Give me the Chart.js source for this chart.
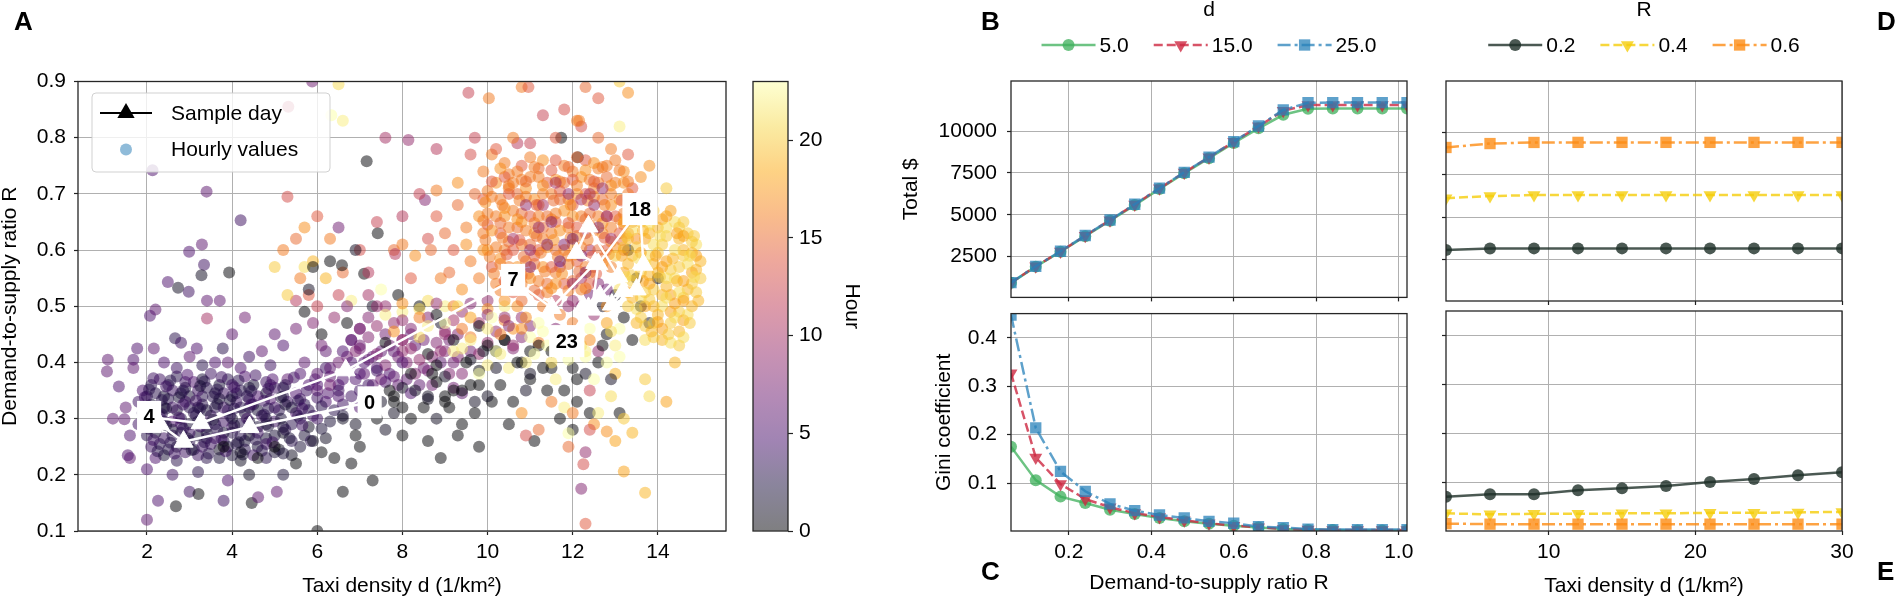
<!DOCTYPE html>
<html>
<head>
<meta charset="utf-8">
<script src="https://cdn.jsdelivr.net/npm/chart.js@4.4.1/dist/chart.umd.min.js"></script>
<style>
  html, body { margin: 0; padding: 0; background: #fff; }
  body { width: 1897px; height: 601px; position: relative; overflow: hidden; font-family: "Liberation Sans", Arial, sans-serif; }
  .box { position: absolute; }
  .panel { position: absolute; font-weight: bold; font-size: 26px; line-height: 26px; color: #000; }
</style>
</head>
<body>
<div class="box" style="left:0;top:0;width:740px;height:601px"><canvas id="chartA"></canvas></div>
<div class="box" style="left:0;top:0;width:740px;height:601px"><canvas id="chartDay"></canvas></div>
<div class="box" style="left:740px;top:0;width:160px;height:601px"><canvas id="chartBar"></canvas></div>
<div class="box" style="left:880px;top:0;width:546px;height:320px"><canvas id="chartB"></canvas></div>
<div class="box" style="left:880px;top:291px;width:546px;height:310px"><canvas id="chartC"></canvas></div>
<div class="box" style="left:1426px;top:0;width:471px;height:320px"><canvas id="chartD"></canvas></div>
<div class="box" style="left:1426px;top:291px;width:471px;height:310px"><canvas id="chartE"></canvas></div>
<div class="panel" style="left:14px;top:8px">A</div>
<div class="panel" style="left:981px;top:8px">B</div>
<div class="panel" style="left:981px;top:558px">C</div>
<div class="panel" style="left:1877px;top:8px">D</div>
<div class="panel" style="left:1877px;top:558px">E</div>
<script>
// ===== Panel A : hourly values [taxi density d, ratio R, hour] =====
const hourlyPoints = [
  // night blob
  [2.3,.37,4],[2.7,.375,3],[3.1,.365,5],[3.5,.38,4],[3.9,.37,3],[4.3,.375,5],[4.8,.365,4],[5.3,.37,6],[5.8,.36,5],
  [1.9,.35,5],[2.2,.345,3],[2.6,.35,4],[3.0,.34,2],[3.4,.355,3],[3.8,.345,4],[4.2,.35,3],[4.6,.34,5],[5.0,.355,4],[5.5,.345,5],[6.0,.35,6],[6.5,.36,5],
  [1.8,.33,4],[2.1,.325,2],[2.5,.335,3],[2.9,.33,4],[3.3,.325,3],[3.7,.335,2],[4.1,.33,4],[4.5,.325,3],[4.9,.335,5],[5.3,.33,4],[5.7,.325,3],[6.2,.33,5],[6.8,.34,4],
  [1.9,.31,3],[2.3,.305,4],[2.7,.315,2],[3.1,.31,3],[3.5,.305,4],[3.9,.315,3],[4.3,.31,2],[4.7,.305,4],[5.1,.315,3],[5.5,.31,5],[5.9,.305,4],[6.4,.315,3],[7.0,.32,5],
  [1.8,.29,4],[2.2,.285,3],[2.6,.295,5],[3.0,.29,2],[3.4,.285,3],[3.8,.295,4],[4.2,.29,3],[4.6,.285,2],[5.0,.295,4],[5.4,.29,3],[5.8,.285,1],[6.3,.295,2],[6.9,.29,1],
  [2.0,.27,3],[2.4,.265,4],[2.8,.275,3],[3.2,.27,2],[3.6,.265,4],[4.0,.275,3],[4.4,.27,1],[4.8,.265,2],[5.2,.275,1],[5.7,.27,2],[6.2,.265,1],
  [2.1,.25,4],[2.5,.245,3],[2.9,.255,2],[3.3,.25,4],[3.7,.245,1],[4.1,.255,3],[4.6,.25,2],[5.1,.245,1],[5.6,.25,2],
  [2.2,.23,5],[2.7,.225,3],[3.2,.235,4],[3.7,.23,2],[4.2,.225,1],[4.8,.23,3],[5.4,.235,1],
  [2.5,.36,3],[2.9,.355,2],[3.3,.34,3],[3.7,.36,2],[4.1,.345,3],[4.5,.36,2],[2.4,.32,2],[2.8,.3,3],[3.2,.32,2],[3.6,.32,3],
  [4.0,.3,2],[4.4,.32,3],[4.8,.3,2],[2.6,.28,2],[3.0,.26,3],[3.4,.275,2],[3.8,.26,3],[4.3,.26,2],
  [2.1,.36,3],[2.9,.365,4],[3.3,.37,2],[4.0,.36,4],[4.4,.355,2],[4.9,.36,3],[5.2,.355,3],
  [2.0,.34,3],[2.4,.34,2],[2.8,.345,3],[3.2,.35,4],[3.6,.345,2],[4.0,.34,3],[4.4,.335,4],[4.8,.345,2],[5.2,.34,3],[5.6,.335,4],
  [2.2,.315,3],[2.6,.32,4],[3.0,.32,3],[3.4,.315,2],[3.8,.32,4],[4.2,.32,3],[4.6,.315,2],[5.0,.32,4],[5.4,.32,2],[5.8,.315,3],
  [2.0,.3,2],[2.4,.295,3],[2.8,.29,4],[3.2,.295,2],[3.6,.29,3],[4.0,.285,4],[4.4,.295,2],[4.8,.29,3],[5.2,.285,2],[5.6,.3,3],
  [2.2,.275,2],[2.6,.27,3],[3.0,.275,4],[3.4,.265,3],[3.8,.275,2],[4.2,.27,3],[4.6,.275,4],[5.0,.27,2],[5.4,.26,3],
  [2.3,.255,3],[2.7,.25,2],[3.1,.245,3],[3.5,.255,4],[3.9,.25,2],[4.3,.245,3],[4.8,.255,4],
  [2.4,.235,2],[2.9,.24,4],[3.4,.23,3],[4.0,.235,2],[4.5,.235,4],[5.0,.24,2],
  [2.15,.372,4],[2.55,.368,3],[2.95,.378,5],[3.35,.366,3],[3.75,.374,4],[4.15,.368,3],[4.55,.377,4],[4.95,.37,5],[5.45,.373,4],[5.95,.37,5],[6.3,.375,6],
  [2.05,.352,3],[2.45,.357,4],[2.85,.35,3],[3.25,.358,2],[3.65,.352,3],[4.05,.356,4],[4.45,.349,3],[4.85,.353,4],[5.25,.36,3],[5.75,.35,4],[6.25,.345,5],
  [1.95,.338,4],[2.35,.333,3],[2.75,.338,2],[3.15,.332,4],[3.55,.339,3],[3.95,.333,2],[4.35,.34,3],[4.75,.332,4],[5.15,.338,2],[5.55,.332,3],[6.0,.337,4],[6.5,.34,5],
  [2.05,.322,3],[2.45,.318,2],[2.85,.325,4],[3.25,.318,3],[3.65,.326,2],[4.05,.318,3],[4.45,.325,4],[4.85,.318,3],[5.25,.325,2],[5.65,.318,4],[6.1,.322,3],[6.6,.325,4],
  [1.95,.302,4],[2.35,.308,3],[2.75,.302,4],[3.15,.306,3],[3.55,.298,2],[3.95,.305,3],[4.35,.3,4],[4.75,.307,3],[5.15,.3,2],[5.55,.305,3],[6.0,.3,4],[6.6,.305,2],
  [2.05,.282,3],[2.45,.288,2],[2.85,.282,3],[3.25,.286,4],[3.65,.28,3],[4.05,.288,2],[4.45,.282,3],[4.85,.287,2],[5.25,.28,3],[5.65,.288,4],[6.1,.282,2],
  [2.15,.262,4],[2.55,.257,3],[2.95,.265,2],[3.35,.258,3],[3.75,.264,4],[4.15,.258,2],[4.55,.263,3],[4.95,.258,4],[5.35,.265,2],[5.85,.26,3],
  [2.25,.242,3],[2.65,.238,4],[3.05,.244,2],[3.45,.238,3],[3.85,.242,4],[4.25,.236,2],[4.7,.243,3],[5.2,.238,2],
  // fringe below and left
  [1.6,.23,6],[2.0,.21,5],[2.6,.2,4],[3.2,.205,3],[3.9,.19,5],[4.4,.2,1],[5.2,.2,2],[2.0,.12,6],[2.26,.154,5],[2.68,.144,0],
  [3.0,.17,4],[3.21,.166,0],[3.8,.154,4],[4.46,.15,0],[4.61,.16,6],[5.05,.17,6],[1.08,.405,6],[1.06,.384,6],[1.34,.357,5],
  [1.47,.299,6],[1.55,.235,5],[1.2,.3,6],[1.6,.27,5],[1.5,.32,6],[1.68,.405,5],[1.68,.39,6],
  // fringe above
  [1.77,.425,5],[2.07,.483,5],[2.2,.494,6],[2.13,.742,5],[3.4,.704,6],[4.2,.653,4],[3.29,.61,6],[2.99,.597,5],[3.34,.574,4],
  [3.28,.555,1],[3.93,.56,0],[2.49,.543,5],[2.73,.533,1],[2.98,.526,4],[3.41,.51,6],[3.71,.51,6],[3.41,.478,10],
  [2.66,.443,3],[2.16,.425,6],[2.8,.435,4],[3.17,.425,5],[3.78,.425,3],[4.0,.45,6],[4.3,.48,7],[5.0,.45,6],[5.5,.46,7],
  [5.2,.43,5],[4.7,.42,6],[2.4,.4,5],[3.0,.41,6],[3.6,.4,5],[4.4,.41,4],[3.9,.4,6],[2.7,.39,4],[3.3,.395,3],[4.2,.39,5],[4.9,.395,4],
  // middle region, mixed hours
  [6.5,.64,7],[5.3,.695,13],[5.5,.62,15],[5.2,.6,16],[5.7,.64,17],[6.0,.66,14],[5.9,.58,19],[5.0,.57,20],[5.6,.55,16],
  [5.8,.52,14],[6.3,.62,16],[6.6,.56,15],[6.58,.573,0],[7.1,.558,0],[7.42,.63,0],[7.16,.758,0],[7.0,.6,13],[7.4,.65,12],
  [7.8,.6,15],[7.83,.593,11],[8.0,.61,16],[8.3,.59,17],[8.67,.6,15],[8.2,.55,14],[8.6,.62,13],[8.9,.55,16],[9.2,.6,14],
  [9.5,.64,16],[9.3,.68,15],[9.3,.72,17],[9.7,.7,15],[9.9,.74,16],[10.1,.77,16],[10.7,.79,11],[10.5,.71,16],[8.14,.796,9],
  [8.53,.689,8],[8.8,.706,16],[9.55,.88,12],[10.03,.87,16],[10.8,.89,16],[10.96,.89,14],[11.73,.8,0],[12.12,.765,0],
  [12.1,.83,16],[6.5,.895,21],[6.6,.83,22],[6.33,.84,23],[5.32,.855,11],[5.88,.9,7],[8.0,.66,11],[8.4,.7,12],[7.6,.8,10],
  [8.8,.78,11],[9.6,.77,13],[6.5,.52,12],[7.2,.52,10],[5.5,.51,11],[6.0,.5,12],[5.3,.52,20],[5.7,.57,21],[6.2,.55,19],
  [6.8,.51,22],[7.5,.53,23],[8.0,.49,22],[8.6,.51,21],[9.0,.5,22],[5.9,.57,0],[6.3,.58,0],[5.8,.53,1],[5.7,.49,0],
  [6.7,.47,0],[7.3,.5,1],[7.9,.52,0],[8.4,.5,0],[8.9,.47,1],[6.9,.6,1],[6.1,.45,0],
  [9.1,.56,15],[9.4,.53,17],[9.6,.58,16],[9.0,.63,15],[9.8,.55,16],[9.5,.61,17],[8.8,.66,14],[9.9,.6,17],
  // morning hours
  [6.5,.4,7],[6.9,.42,8],[7.3,.41,6],[7.7,.43,7],[8.1,.4,8],[8.5,.44,7],[8.9,.42,9],[9.3,.45,8],[7.1,.38,6],[7.5,.37,7],
  [7.9,.36,6],[8.3,.38,8],[8.7,.36,7],[9.1,.38,8],[6.0,.38,6],[6.3,.36,7],[5.7,.4,6],[6.1,.43,7],[7.0,.46,8],[7.8,.47,9],
  [8.6,.48,8],[9.4,.49,9],[9.8,.47,10],[10.0,.51,9],[6.7,.5,8],[7.4,.5,9],[7.2,.56,11],[6.8,.44,6],[7.6,.45,7],[8.2,.45,6],
  [8.0,.42,9],[9.6,.42,7],[6.4,.48,9],[5.9,.47,8],[6.2,.42,6],[6.6,.37,5],[7.0,.35,4],[7.4,.39,5],[6.2,.39,4],[5.6,.38,5],
  [6.3,.39,6],[6.7,.41,7],[7.1,.4,5],[7.5,.42,6],[7.9,.41,7],[8.3,.43,6],[8.7,.41,8],[9.1,.44,7],[6.5,.35,4],[6.9,.37,5],
  [7.3,.36,6],[7.7,.38,5],[8.1,.37,6],[8.5,.39,7],[8.9,.4,6],[9.3,.41,8],[6.0,.36,5],[7.0,.43,7],[8.0,.44,8],[9.0,.45,9],
  // diagonal band between the night blob and the afternoon cluster
  [7.6,.5,9],[8.0,.505,17],[8.4,.495,21],[8.8,.505,9],[9.2,.5,16],[9.6,.505,8],[10.0,.495,17],[10.4,.5,22],
  [7.2,.48,8],[7.6,.485,22],[8.0,.475,9],[8.4,.48,16],[8.8,.485,0],[9.2,.475,10],[9.6,.48,18],[10.0,.485,8],[10.4,.475,16],[10.8,.48,9],
  [7.0,.46,7],[7.4,.465,9],[7.8,.455,17],[8.2,.46,8],[8.6,.465,22],[9.0,.455,9],[9.4,.46,16],[9.8,.465,0],[10.2,.455,9],[10.6,.46,17],[11.0,.465,8],
  [6.8,.44,6],[7.2,.445,8],[7.6,.435,0],[8.0,.44,9],[8.4,.445,21],[8.8,.435,8],[9.2,.44,0],[9.6,.445,16],[10.0,.435,9],[10.4,.44,1],[10.8,.445,8],[11.2,.435,16],
  [6.6,.42,5],[7.0,.425,7],[7.4,.415,8],[7.8,.42,6],[8.2,.425,9],[8.6,.415,0],[9.0,.42,8],[9.4,.425,22],[9.8,.415,9],[10.2,.42,0],[10.6,.425,8],
  [6.8,.4,5],[7.2,.405,6],[7.6,.395,8],[8.0,.4,5],[8.4,.405,9],[8.8,.395,0],[9.2,.4,7],[9.6,.405,1],[10.0,.395,22],
  [7.0,.38,5],[7.4,.385,4],[7.8,.375,6],[8.2,.38,0],[8.6,.385,7],[9.0,.375,1],[9.4,.38,8],[9.8,.385,0],
  [7.2,.36,4],[7.6,.365,5],[8.0,.355,1],[8.4,.36,6],[8.8,.365,0],[9.2,.355,7],[9.6,.36,0],
  [7.8,.34,0],[8.2,.345,5],[8.6,.335,1],[9.0,.34,0],[9.4,.345,6],[10.1,.33,0],
  // midnight hours along the bottom
  [3.8,.25,0],[5.5,.22,0],[6.1,.24,0],[6.8,.22,0],[7.0,.25,0],[7.6,.28,1],[8.2,.3,0],[8.6,.26,0],[8.9,.23,0],[9.3,.27,0],
  [9.8,.25,0],[7.3,.19,0],[6.6,.17,0],[6.0,.1,0],[7.4,.3,0],[7.8,.31,1],[8.5,.32,0],[8.8,.3,1],[9.1,.32,0],[9.4,.29,0],
  [9.7,.33,1],[7.2,.34,1],[7.7,.35,0],[6.6,.3,1],[6.9,.27,0],[8.0,.27,0],[5.9,.26,1],[6.4,.23,0],[5.0,.25,0],[4.6,.23,0],[4.2,.24,1],
  [9.0,.33,0],[9.4,.35,0],[9.7,.31,0],[10.0,.34,1],[10.3,.36,0],[10.6,.33,0],[9.5,.4,0],[9.9,.42,1],[10.4,.44,0],[10.8,.4,0],
  [11.2,.43,0],[11.0,.37,0],[11.5,.39,0],[11.8,.35,0],[12.1,.33,0],[12.4,.31,0],[12.8,.45,0],[13.2,.48,0],[13.0,.52,1],
  [13.5,.55,0],[13.6,.5,0],[12.6,.4,0],[11.7,.3,0],[10.5,.29,0],[11.1,.26,0],[12.0,.28,0],[8.7,.38,0],[8.3,.35,1],[7.8,.33,0],
  [10.2,.39,1],[10.9,.35,1],[11.4,.35,0],[12.3,.38,1],[13.4,.44,0],[13.8,.47,1],[14.0,.55,0],[13.3,.6,0],[12.7,.5,1],[13.1,.31,0],
  [7.5,.33,1],[8.0,.32,0],[8.6,.34,1],[9.2,.35,0],[9.8,.36,0],
  // late evening, mixed with afternoon and morning values
  [10.0,.46,22],[10.4,.48,9],[10.8,.46,17],[11.2,.47,23],[11.6,.46,8],[12.0,.47,16],[12.4,.46,23],[12.8,.47,18],[10.2,.42,23],
  [10.6,.43,9],[11.0,.42,0],[11.4,.43,23],[11.8,.42,17],[12.2,.43,21],[12.6,.42,9],[13.0,.43,22],[10.5,.39,22],[11.0,.38,1],
  [11.5,.4,21],[12.0,.39,0],[12.5,.37,23],[13.0,.38,19],[9.6,.44,22],[9.3,.5,21],[9.0,.47,23],[12.8,.5,17],[13.1,.46,23],
  [11.3,.5,16],[11.9,.5,9],[10.7,.5,17],[12.2,.5,8],[9.8,.38,23],[11.8,.32,22],[12.9,.34,21],[9.2,.42,22],[11.9,.274,23],[12.6,.31,22],
  [10.3,.45,16],[11.0,.445,23],[11.7,.44,9],[12.4,.44,17],[10.9,.4,22],[12.3,.41,23],[11.6,.37,22],[12.8,.4,23],
  [10.1,.48,23],[10.5,.465,8],[10.9,.48,17],[11.3,.455,23],[11.7,.485,16],[12.1,.455,23],[12.5,.485,9],[12.9,.455,21],
  [10.3,.415,22],[10.7,.4,0],[11.1,.415,23],[11.5,.42,0],[11.9,.405,23],[12.3,.42,22],[12.7,.43,0],[13.1,.41,23],
  [10.0,.43,0],[11.3,.39,0],[12.1,.37,0],[12.9,.37,1],
  // afternoon cluster
  [10.8,.75,14],[11.3,.76,17],[11.8,.75,16],[12.3,.76,14],[12.8,.75,16],[13.2,.74,17],
  [10.2,.72,17],[10.6,.72,16],[11.0,.73,16],[11.4,.72,14],[11.8,.72,15],[12.2,.73,17],[12.6,.72,16],[13.0,.72,16],[13.4,.71,14],
  [9.9,.69,14],[10.3,.69,16],[10.7,.7,15],[11.1,.69,17],[11.5,.7,16],[11.9,.69,16],[12.3,.7,14],[12.7,.69,15],[13.1,.69,17],[13.5,.68,17],
  [9.8,.66,17],[10.2,.66,16],[10.6,.67,16],[11.0,.66,14],[11.4,.66,15],[11.8,.67,17],[12.2,.66,16],[12.6,.66,16],[13.0,.66,14],[13.4,.65,17],
  [9.9,.63,16],[10.3,.63,14],[10.7,.64,15],[11.1,.63,17],[11.5,.63,16],[11.9,.64,16],[12.3,.63,11],[12.7,.63,17],[13.1,.63,14],[13.5,.62,17],
  [10.0,.6,17],[10.4,.6,16],[10.8,.61,16],[11.2,.6,14],[11.6,.6,15],[12.0,.61,17],[12.4,.6,10],[12.8,.6,14],[13.2,.6,16],
  [10.1,.57,14],[10.5,.57,16],[10.9,.58,16],[11.3,.57,17],[11.7,.57,11],[12.1,.58,14],[12.5,.57,9],[12.9,.57,16],
  [10.2,.54,16],[10.6,.54,16],[11.0,.55,17],[11.4,.54,15],[11.8,.54,14],[12.2,.55,10],[12.6,.54,8],
  [10.4,.51,17],[10.8,.51,15],[11.2,.52,14],[11.6,.51,11],[12.0,.51,9],[12.4,.52,7],
  [10.5,.735,16],[11.2,.745,15],[12.0,.74,16],[12.6,.745,16],[10.0,.705,16],[10.9,.71,17],[11.7,.705,14],[12.5,.71,16],[13.3,.7,16],
  [10.4,.675,17],[11.2,.68,16],[12.0,.68,14],[12.9,.68,17],[10.0,.645,14],[10.8,.65,17],[11.6,.65,14],[12.4,.645,16],[13.2,.645,16],
  [10.5,.615,15],[11.3,.62,16],[12.1,.625,16],[12.9,.615,16],[10.3,.585,17],[11.1,.59,14],[11.9,.59,16],[12.7,.585,15],
  [10.8,.555,14],[11.6,.56,16],[12.4,.56,17],[10.6,.525,14],[11.4,.525,16],[12.2,.53,16],
  [10.4,.755,16],[11.0,.765,16],[11.6,.76,14],[12.1,.765,15],[12.5,.755,17],[13.0,.76,16],
  [10.4,.73,14],[10.8,.725,16],[11.2,.73,16],[11.6,.725,17],[12.0,.725,14],[12.4,.725,16],[12.8,.73,15],[13.2,.72,17],
  [10.1,.695,16],[10.5,.7,14],[10.9,.695,16],[11.3,.7,16],[11.7,.69,15],[12.1,.7,17],[12.5,.695,16],[12.9,.7,16],[13.3,.69,14],
  [10.0,.665,16],[10.4,.66,17],[10.8,.665,15],[11.2,.66,16],[11.6,.665,16],[12.0,.66,17],[12.4,.665,15],[12.8,.66,14],[13.2,.665,16],
  [10.1,.635,17],[10.5,.64,16],[10.9,.635,16],[11.3,.64,15],[11.7,.635,17],[12.1,.64,14],[12.5,.635,16],[12.9,.64,16],[13.3,.63,17],
  [10.2,.605,16],[10.6,.6,14],[11.0,.61,15],[11.4,.605,17],[11.8,.6,16],[12.2,.605,16],[12.6,.6,15],[13.0,.605,17],
  [10.3,.575,16],[10.7,.57,17],[11.1,.575,15],[11.5,.57,14],[11.9,.575,16],[12.3,.57,16],[12.7,.575,17],
  [10.4,.545,14],[10.8,.54,16],[11.2,.545,16],[11.6,.54,17],[12.0,.545,15],[12.4,.54,14],
  [10.3,.745,17],[10.7,.74,16],[11.1,.748,16],[11.5,.742,14],[11.9,.748,15],[12.3,.742,17],[12.7,.748,16],[13.1,.742,16],
  [10.1,.722,14],[10.5,.715,16],[10.9,.722,15],[11.3,.715,17],[11.7,.722,16],[12.1,.715,16],[12.5,.722,14],[12.9,.715,17],[13.3,.722,16],
  [9.95,.685,17],[10.35,.68,16],[10.75,.688,16],[11.15,.68,14],[11.55,.688,15],[11.95,.68,17],[12.35,.688,16],[12.75,.68,16],[13.15,.688,14],[13.5,.66,17],
  [9.9,.652,16],[10.3,.648,15],[10.7,.655,17],[11.1,.648,16],[11.5,.655,16],[11.9,.648,14],[12.3,.655,15],[12.7,.648,17],[13.1,.655,16],
  [9.95,.618,16],[10.35,.622,16],[10.75,.618,14],[11.15,.625,15],[11.55,.618,17],[11.95,.622,16],[12.35,.618,16],[12.75,.622,14],[13.15,.618,15],
  [10.05,.588,16],[10.45,.592,14],[10.85,.588,15],[11.25,.595,16],[11.65,.588,16],[12.05,.592,17],[12.45,.588,14],[12.85,.592,16],
  [10.15,.558,16],[10.55,.562,17],[10.95,.558,16],[11.35,.562,16],[11.75,.558,17],[12.15,.562,15],[12.55,.558,14],
  [10.3,.528,16],[10.7,.532,14],[11.1,.528,15],[11.5,.532,17],[11.9,.528,16],[12.3,.532,16],
  [11.5,.65,8],[12.0,.62,7],[12.5,.68,9],[12.3,.56,8],[12.8,.53,7],[11.3,.68,10],[11.9,.7,9],[12.6,.64,8],[11.0,.6,9],
  [12.9,.62,10],[11.7,.58,7],[12.2,.69,10],[11.4,.61,8],[12.7,.71,9],
  [11.2,.64,9],[11.8,.61,8],[12.4,.7,10],[10.9,.68,9],[12.2,.59,8],[11.6,.72,10],[12.8,.66,9],[11.0,.57,8],[12.0,.54,9],[10.6,.62,10],
  [9.7,.8,12],[10.2,.78,14],[10.6,.8,16],[11.0,.79,12],[11.6,.8,14],[12.2,.82,13],[12.6,.8,15],[12.9,.78,16],[13.3,.77,14],
  [13.6,.73,17],[11.3,.84,12],[12.6,.87,14],[12.3,.89,15],[11.8,.85,13],[13.1,.82,22],[13.3,.88,17],[13.1,.9,20],[12.15,.83,16],
  [13.8,.75,17],[14.2,.71,20],
  // evening cluster
  [13.5,.68,19],[13.9,.67,20],[14.3,.67,18],
  [13.2,.65,18],[13.6,.65,20],[14.0,.64,19],[14.4,.65,21],[14.7,.63,20],
  [13.3,.62,19],[13.7,.62,18],[14.1,.61,20],[14.5,.62,19],[14.9,.61,21],
  [13.0,.59,20],[13.4,.59,19],[13.8,.59,21],[14.2,.58,18],[14.6,.59,20],[15.0,.58,19],
  [13.2,.56,18],[13.6,.56,20],[14.0,.56,19],[14.4,.55,21],[14.8,.56,18],[15.0,.55,20],
  [13.1,.53,21],[13.5,.53,19],[13.9,.53,20],[14.3,.52,18],[14.7,.53,19],
  [13.3,.5,20],[13.7,.5,18],[14.1,.5,21],[14.5,.49,20],[14.8,.5,19],
  [13.5,.47,19],[13.9,.47,21],[14.3,.47,20],[14.6,.475,18],
  [13.7,.44,21],[14.1,.44,19],[14.5,.43,20],
  [13.8,.655,18],[14.2,.625,20],[14.6,.6,19],[13.5,.605,20],[13.9,.575,19],[14.3,.565,20],[14.7,.575,21],[13.4,.545,20],
  [13.8,.54,18],[14.2,.535,19],[14.6,.515,20],[13.6,.515,21],[14.0,.485,19],[14.4,.505,18],[13.9,.61,21],[14.8,.54,20],[14.9,.59,18],
  [13.7,.665,19],[14.1,.655,18],[14.5,.64,20],[13.4,.635,21],[13.8,.63,19],[14.2,.64,21],[14.6,.625,18],[14.8,.615,20],
  [13.2,.605,20],[13.6,.595,18],[14.0,.595,20],[14.4,.6,21],[14.8,.595,19],[13.3,.575,19],[13.7,.575,21],[14.1,.57,18],
  [14.5,.57,20],[14.9,.565,19],[13.4,.555,20],[13.8,.555,19],[14.2,.55,21],[14.6,.545,18],[13.3,.525,18],[13.7,.525,20],
  [14.1,.52,19],[14.5,.525,21],[14.9,.525,20],[13.5,.495,21],[13.9,.5,19],[14.3,.49,18],[14.7,.485,21],[13.7,.465,20],
  [14.1,.46,18],[14.5,.455,19],[13.9,.445,20],[14.3,.435,21],
  [13.4,.66,19],[13.8,.645,21],[14.2,.66,18],[14.6,.65,20],[13.25,.625,20],[13.65,.635,19],[14.05,.625,21],[14.45,.63,18],
  [14.85,.625,20],[13.15,.59,18],[13.55,.585,21],[13.95,.59,18],[14.35,.585,19],[14.75,.59,21],[13.25,.552,21],[13.65,.545,18],
  [14.05,.552,20],[14.45,.545,19],[14.85,.552,21],[13.4,.515,19],[13.8,.512,20],[14.2,.515,21],[14.6,.51,18],[14.95,.51,19],
  [13.6,.48,20],[14.0,.472,18],[14.4,.48,21],[14.75,.47,20],[13.85,.455,19],[14.25,.45,20],[14.6,.445,21],
  // low outliers on the right
  [14.4,.4,19],[13.7,.37,20],[13.8,.34,21],[13.2,.3,20],[13.7,.168,19],[13.2,.206,18],[12.5,.29,17],[12.0,.31,16],[11.2,.28,15],
  [12.3,.113,14],[12.2,.175,8],[12.25,.219,13],[12.3,.24,9],[13.0,.26,18],[12.8,.277,17],[11.5,.33,16],[10.8,.31,17],
  [12.4,.28,13],[13.4,.275,19],[14.2,.33,18],[11.9,.25,15],[10.9,.27,13],[12.4,.35,12]
];

// one sample day, hour 0..23 : [taxi density d, ratio R]
const sampleDay = [
  [7.23,0.329],[4.41,0.285],[2.86,0.259],[2.3,0.29],[2.05,0.303],[3.26,0.292],[6.67,0.386],[10.6,0.547],
  [11.51,0.497],[12.53,0.577],[12.09,0.595],[12.37,0.642],[13.07,0.553],[12.64,0.518],[12.92,0.503],[13.19,0.527],[13.5,0.53],[13.66,0.574],
  [13.58,0.673],[12.6,0.575],[12.45,0.494],[12.25,0.5],[12.37,0.497],[11.86,0.438]
];
const labelledHours = [0, 4, 7, 18, 23];
const densityTicksA = [2, 4, 6, 8, 10, 12, 14];
const ratioTicksA = [0.1, 0.2, 0.3, 0.4, 0.5, 0.6, 0.7, 0.8, 0.9];
const hourTicks = [0, 5, 10, 15, 20];

// ===== Panels B, C : against demand-to-supply ratio R =====
const ratioR = [0.06, 0.12, 0.18, 0.24, 0.30, 0.36, 0.42, 0.48, 0.54, 0.60, 0.66, 0.72, 0.78, 0.84, 0.90, 0.96, 1.02];
const totalD5  = [930, 1900, 2790, 3720, 4640, 5580, 6540, 7480, 8380, 9290, 10170, 10980, 11340, 11360, 11360, 11360, 11360];
const totalD15 = [940, 1920, 2810, 3750, 4680, 5620, 6580, 7530, 8440, 9360, 10290, 11220, 11560, 11570, 11570, 11570, 11570];
const totalD25 = [940, 1920, 2820, 3760, 4690, 5630, 6590, 7540, 8450, 9380, 10310, 11270, 11700, 11710, 11710, 11710, 11710];
const giniD5  = [0.175, 0.106, 0.072, 0.059, 0.045, 0.036, 0.028, 0.021, 0.016, 0.012, 0.008, 0.005, 0.003, 0.003, 0.002, 0.002, 0.002];
const giniD15 = [0.327, 0.153, 0.098, 0.067, 0.050, 0.038, 0.030, 0.023, 0.017, 0.012, 0.009, 0.005, 0.004, 0.003, 0.003, 0.003, 0.003];
const giniD25 = [0.447, 0.214, 0.124, 0.083, 0.057, 0.043, 0.034, 0.028, 0.021, 0.017, 0.010, 0.008, 0.005, 0.004, 0.004, 0.004, 0.004];

// ===== Panels D, E : against taxi density d =====
const densityD = [3, 6, 9, 12, 15, 18, 21, 24, 27, 30];
const totalR02 = [3065, 3150, 3155, 3155, 3155, 3155, 3155, 3155, 3155, 3155];
const totalR04 = [6110, 6230, 6290, 6290, 6295, 6295, 6295, 6295, 6295, 6295];
const totalR06 = [9090, 9320, 9385, 9390, 9390, 9390, 9390, 9390, 9390, 9390];
const giniR02 = [0.071, 0.076, 0.076, 0.084, 0.088, 0.093, 0.101, 0.107, 0.115, 0.121];
const giniR04 = [0.037, 0.035, 0.036, 0.036, 0.037, 0.037, 0.038, 0.038, 0.039, 0.040];
const giniR06 = [0.016, 0.015, 0.015, 0.015, 0.015, 0.015, 0.015, 0.015, 0.015, 0.015];

const ratioTicks = [0.2, 0.4, 0.6, 0.8, 1.0];
const densityTicks = [10, 20, 30];
const totalTicks = [2500, 5000, 7500, 10000];
const giniTicks = [0.1, 0.2, 0.3, 0.4];

// ==============================================
const FONT = '"Liberation Sans", Arial, Helvetica, sans-serif';
Chart.defaults.font.family = FONT;
Chart.defaults.font.size = 21;
Chart.defaults.color = '#000';
Chart.defaults.animation = false;
Chart.defaults.plugins.legend.display = false;
Chart.defaults.plugins.tooltip.enabled = false;

const INFERNO = ['#000004', '#160b39', '#420a68', '#6a176e', '#932667', '#bc3754', '#dd513a', '#f37819', '#fca50a', '#f6d746', '#fcffa4'];
function hexRgb(h) {
    return [parseInt(h.slice(1, 3), 16), parseInt(h.slice(3, 5), 16), parseInt(h.slice(5, 7), 16)];
}
function inferno(t, alpha) {
    t = Math.min(1, Math.max(0, t));
    const p = t * 10;
    const i = Math.min(9, Math.floor(p));
    const f = p - i;
    const a = hexRgb(INFERNO[i]), b = hexRgb(INFERNO[i + 1]);
    const c = a.map((v, k) => Math.round(v + (b[k] - v) * f));
    return 'rgba(' + c[0] + ',' + c[1] + ',' + c[2] + ',' + alpha + ')';
}

// axis helpers
function fixedTicks(values) {
    return scale => { scale.ticks = values.map(v => ({ value: v })); };
}
function grid(extra) {
    return Object.assign({ color: '#b0b0b0', lineWidth: 1, drawTicks: true, tickLength: 4, tickColor: '#222', tickWidth: 1.2 }, extra || {});
}

function drawMarker(ctx, style, rotation, r, x, y, color) {
    ctx.save();
    ctx.fillStyle = color;
    ctx.beginPath();
    if (style === 'circle') {
        ctx.arc(x, y, r, 0, Math.PI * 2);
    } else if (style === 'rect') {
        const s = r * Math.SQRT1_2;
        ctx.rect(x - s, y - s, 2 * s, 2 * s);
    } else {
        let rad = (rotation || 0) * Math.PI / 180;
        ctx.moveTo(x + Math.sin(rad) * r, y - Math.cos(rad) * r);
        rad += 2 * Math.PI / 3;
        ctx.lineTo(x + Math.sin(rad) * r, y - Math.cos(rad) * r);
        rad += 2 * Math.PI / 3;
        ctx.lineTo(x + Math.sin(rad) * r, y - Math.cos(rad) * r);
        ctx.closePath();
    }
    ctx.fill();
    ctx.restore();
}

function drawHandle(ctx, x, y, len, lineColor, lineWidth, dash, marker) {
    ctx.save();
    ctx.strokeStyle = lineColor;
    ctx.lineWidth = lineWidth;
    ctx.setLineDash(dash || []);
    ctx.beginPath();
    ctx.moveTo(x, y);
    ctx.lineTo(x + len, y);
    ctx.stroke();
    ctx.restore();
    drawMarker(ctx, marker.style, marker.rotation, marker.radius, x + len / 2, y, marker.color);
}

// spines around the plot area
const framePlugin = {
    id: 'frame',
    afterDatasetsDraw(chart, args, opts) {
        if (opts.hidden) return;
        const { ctx, chartArea: a } = chart;
        ctx.save();
        ctx.strokeStyle = '#262626';
        ctx.lineWidth = 1.3;
        ctx.strokeRect(a.left, a.top, a.right - a.left, a.bottom - a.top);
        ctx.restore();
    }
};

// boxed hour numbers on the sample day
const hourLabelPlugin = {
    id: 'hourLabels',
    afterDatasetsDraw(chart, args, opts) {
        if (!opts.hours) return;
        const { ctx, scales } = chart;
        ctx.save();
        ctx.font = 'bold 20px ' + FONT;
        ctx.textAlign = 'center';
        ctx.textBaseline = 'middle';
        opts.hours.forEach(h => {
            const px = scales.x.getPixelForValue(sampleDay[h][0]);
            const py = scales.y.getPixelForValue(sampleDay[h][1]);
            const text = String(h);
            const w = ctx.measureText(text).width + 13;
            ctx.fillStyle = '#fff';
            ctx.fillRect(px - w / 2, py - 16, w, 32);
            ctx.fillStyle = '#000';
            ctx.fillText(text, px, py + 1);
        });
        ctx.restore();
    }
};

// legend with line handle + marker, centred over the plot
const lineLegendPlugin = {
    id: 'lineLegend',
    afterDraw(chart, args, opts) {
        if (!opts.title) return;
        const { ctx, chartArea: a } = chart;
        const sets = chart.data.datasets;
        const cx = (a.left + a.right) / 2;
        ctx.save();
        ctx.font = '21px ' + FONT;
        ctx.textBaseline = 'middle';
        const widths = sets.map(ds => opts.handle + opts.gap + ctx.measureText(ds.label).width);
        const total = widths.reduce((s, w) => s + w, 0) + opts.spacing * (sets.length - 1);
        let x = cx - total / 2;
        const y = a.top - opts.itemOffset;
        ctx.fillStyle = '#000';
        ctx.textAlign = 'center';
        ctx.fillText(opts.title, cx, a.top - opts.titleOffset);
        ctx.textAlign = 'left';
        sets.forEach((ds, i) => {
            drawHandle(ctx, x, y, opts.handle, ds.borderColor, ds.borderWidth, ds.borderDash,
                { style: ds.pointStyle, rotation: ds.pointRotation, radius: ds.pointRadius, color: ds.pointBackgroundColor });
            ctx.fillStyle = '#000';
            ctx.fillText(ds.label, x + opts.handle + opts.gap, y + 1);
            x += widths[i] + opts.spacing;
        });
        ctx.restore();
    }
};

// framed legend inside panel A
const boxLegendPlugin = {
    id: 'boxLegend',
    afterDraw(chart, args, opts) {
        if (!opts.items) return;
        const { ctx, chartArea: a } = chart;
        const left = a.left + opts.dx, top = a.top + opts.dy;
        ctx.save();
        ctx.beginPath();
        ctx.roundRect(left, top, opts.width, opts.height, 4);
        ctx.fillStyle = 'rgba(255,255,255,0.8)';
        ctx.fill();
        ctx.strokeStyle = 'rgba(204,204,204,0.9)';
        ctx.lineWidth = 1;
        ctx.stroke();
        ctx.font = '21px ' + FONT;
        ctx.textBaseline = 'middle';
        ctx.textAlign = 'left';
        opts.items.forEach(item => {
            const y = top + item.dy;
            if (item.line) {
                drawHandle(ctx, left + 8, y, 52, item.line, 2, [], item.marker);
            } else {
                drawMarker(ctx, item.marker.style, 0, item.marker.radius, left + 34, y, item.marker.color);
            }
            ctx.fillStyle = '#000';
            ctx.fillText(item.text, left + 79, y + 1);
        });
        ctx.restore();
    }
};

Chart.register(framePlugin, hourLabelPlugin, lineLegendPlugin, boxLegendPlugin);

// ==============================================
// Panel A : hourly values
const xRangeA = { min: 0.38, max: 15.6 };
const yRangeA = { min: 0.1, max: 0.9 };

new Chart(document.getElementById('chartA'), {
    type: 'scatter',
    data: {
        datasets: [{
            label: 'Hourly values',
            data: hourlyPoints.map(p => ({ x: p[0], y: p[1] })),
            pointRadius: 6,
            pointBorderWidth: 0,
            pointBackgroundColor: hourlyPoints.map(p => inferno(p[2] / 23, 0.5)),
            clip: 0
        }]
    },
    options: {
        responsive: true,
        maintainAspectRatio: false,
        layout: { padding: { top: 81.5, right: 14, left: 0, bottom: 0 } },
        scales: {
            x: {
                type: 'linear', min: xRangeA.min, max: xRangeA.max,
                afterBuildTicks: fixedTicks(densityTicksA),
                afterFit: s => { s.height = 70; },
                grid: grid(), border: { display: false },
                ticks: { padding: 5, autoSkip: false, maxRotation: 0, callback: v => String(v) },
                title: { display: true, text: 'Taxi density d (1/km²)', font: { size: 21, lineHeight: 1 }, padding: { top: 0, bottom: 4.5 } }
            },
            y: {
                min: yRangeA.min, max: yRangeA.max,
                afterBuildTicks: fixedTicks(ratioTicksA),
                afterFit: s => { s.width = 78; },
                grid: grid(), border: { display: false },
                ticks: { padding: 8, autoSkip: false, callback: v => v.toFixed(1) },
                title: { display: true, text: 'Demand-to-supply ratio R', font: { size: 21, lineHeight: 1 }, padding: { top: 0, bottom: 0 } }
            }
        }
    }
});

// Panel A : sample day, on a transparent layer with the same plot area
new Chart(document.getElementById('chartDay'), {
    type: 'scatter',
    data: {
        datasets: [{
            label: 'Sample day',
            data: sampleDay.map(p => ({ x: p[0], y: p[1] })),
            showLine: true,
            borderColor: '#fff',
            borderWidth: 2.5,
            pointStyle: 'triangle',
            pointRadius: 11,
            pointBackgroundColor: '#fff',
            pointBorderColor: '#fff',
            pointBorderWidth: 1,
            clip: 0
        }]
    },
    options: {
        responsive: true,
        maintainAspectRatio: false,
        layout: { padding: { top: 81.5, right: 14, left: 78, bottom: 70 } },
        scales: {
            x: { type: 'linear', min: xRangeA.min, max: xRangeA.max, display: false },
            y: { type: 'linear', min: yRangeA.min, max: yRangeA.max, display: false }
        },
        plugins: {
            frame: { hidden: true },
            hourLabels: { hours: labelledHours },
            boxLegend: {
                dx: 14, dy: 11.5, width: 238, height: 79,
                items: [
                    { text: 'Sample day', dy: 20, line: '#000', marker: { style: 'triangle', rotation: 0, radius: 10, color: '#000' } },
                    { text: 'Hourly values', dy: 56.5, marker: { style: 'circle', radius: 6, color: 'rgba(31,119,180,0.5)' } }
                ]
            }
        }
    }
});

// Colour bar (Hour)
new Chart(document.getElementById('chartBar'), {
    type: 'bar',
    data: {
        labels: [''],
        datasets: [{
            data: [[0, 23]],
            barPercentage: 1,
            categoryPercentage: 1,
            borderWidth: 0,
            backgroundColor: function (context) {
                const chart = context.chart;
                if (!chart.chartArea) return 'rgba(0,0,0,0)';
                const y = chart.scales.y;
                const g = chart.ctx.createLinearGradient(0, y.getPixelForValue(0), 0, y.getPixelForValue(23));
                for (let i = 0; i <= 20; i++) g.addColorStop(i / 20, inferno(i / 20, 0.5));
                return g;
            }
        }]
    },
    options: {
        responsive: true,
        maintainAspectRatio: false,
        layout: { padding: { top: 81.5, right: 0, left: 13, bottom: 70 } },
        scales: {
            x: { display: false },
            y: {
                position: 'right', min: 0, max: 23,
                afterBuildTicks: fixedTicks(hourTicks),
                afterFit: s => { s.width = 112; },
                grid: grid({ drawOnChartArea: false, tickLength: 5 }), border: { display: false },
                ticks: { padding: 6, autoSkip: false, callback: v => String(v) },
                title: { display: true, text: 'Hour', font: { size: 21, lineHeight: 1 }, padding: { top: 37.5, bottom: 0 } }
            }
        }
    }
});

// line series helper for B-E
function series(label, xs, ys, color, marker, dash, order) {
    return {
        label: label,
        order: order,
        data: xs.map((x, i) => ({ x: x, y: ys[i] })),
        borderColor: color,
        backgroundColor: color,
        borderWidth: 2.5,
        borderDash: dash,
        pointStyle: marker === 'down' ? 'triangle' : marker,
        pointRotation: marker === 'down' ? 180 : 0,
        pointRadius: marker === 'circle' ? 6 : (marker === 'rect' ? 8 : 7.5),
        pointBackgroundColor: color,
        pointBorderWidth: 0,
        tension: 0,
        fill: false,
        clip: 0
    };
}

const GREEN = 'rgba(60,175,90,0.75)';
const RED = 'rgba(205,40,65,0.8)';
const BLUE = 'rgba(40,130,185,0.75)';
const DARK = 'rgba(30,48,40,0.8)';
const YELLOW = 'rgba(245,205,10,0.8)';
const ORANGE = 'rgba(253,140,20,0.8)';
const DASHED = [9, 4];
const DASHDOT = [13, 4, 3, 4];

function panel(id, datasets, o) {
    return new Chart(document.getElementById(id), {
        type: 'line',
        data: { datasets: datasets },
        options: {
            responsive: true,
            maintainAspectRatio: false,
            layout: { padding: o.padding },
            scales: {
                x: {
                    type: 'linear', min: o.xMin, max: o.xMax,
                    afterBuildTicks: fixedTicks(o.xTicks),
                    afterFit: s => { s.height = o.xHeight; },
                    grid: grid(), border: { display: false },
                    ticks: { display: o.xLabels, padding: 5, autoSkip: false, maxRotation: 0, callback: o.xFormat },
                    title: { display: !!o.xTitle, text: o.xTitle || '', font: { size: 21, lineHeight: 1 }, padding: { top: 0, bottom: o.xTitlePad || 0 } }
                },
                y: {
                    type: 'linear', min: o.yMin, max: o.yMax,
                    afterBuildTicks: fixedTicks(o.yTicks),
                    afterFit: s => { s.width = o.yWidth; },
                    grid: grid(), border: { display: false },
                    ticks: { display: o.yLabels, padding: 10, autoSkip: false, callback: o.yFormat },
                    title: { display: !!o.yTitle, text: o.yTitle || '', font: { size: 21, lineHeight: 1 }, padding: { top: o.yTitlePad || 0, bottom: 0 } }
                }
            },
            plugins: { lineLegend: o.legend || {} }
        }
    });
}

const legendOpts = { handle: 54, gap: 4, spacing: 25, titleOffset: 71, itemOffset: 36 };

// Panel B
panel('chartB', [
    series('5.0', ratioR, totalD5, GREEN, 'circle', [], 3),
    series('15.0', ratioR, totalD15, RED, 'down', DASHED, 2),
    series('25.0', ratioR, totalD25, BLUE, 'rect', DASHDOT, 1)
], {
    padding: { top: 81, right: 19, left: 0, bottom: 0 },
    xMin: 0.06, xMax: 1.02, xTicks: ratioTicks, xHeight: 19, xLabels: false, xFormat: v => v.toFixed(1),
    yMin: 60, yMax: 13000, yTicks: totalTicks, yWidth: 131, yLabels: true, yFormat: v => String(v),
    yTitle: 'Total $', yTitlePad: 20.5,
    legend: Object.assign({ title: 'd' }, legendOpts)
});

// Panel C
panel('chartC', [
    series('5.0', ratioR, giniD5, GREEN, 'circle', [], 3),
    series('15.0', ratioR, giniD15, RED, 'down', DASHED, 2),
    series('25.0', ratioR, giniD25, BLUE, 'rect', DASHDOT, 1)
], {
    padding: { top: 20, right: 19, left: 0, bottom: 0 },
    xMin: 0.06, xMax: 1.02, xTicks: ratioTicks, xHeight: 70, xLabels: true, xFormat: v => v.toFixed(1),
    xTitle: 'Demand-to-supply ratio R', xTitlePad: 7.5,
    yMin: 0.001, yMax: 0.45, yTicks: giniTicks, yWidth: 131, yLabels: true, yFormat: v => v.toFixed(1),
    yTitle: 'Gini coefficient', yTitlePad: 53.5
});

// Panel D
panel('chartD', [
    series('0.2', densityD, totalR02, DARK, 'circle', [], 3),
    series('0.4', densityD, totalR04, YELLOW, 'down', DASHED, 2),
    series('0.6', densityD, totalR06, ORANGE, 'rect', DASHDOT, 1)
], {
    padding: { top: 81, right: 55, left: 0, bottom: 0 },
    xMin: 3, xMax: 30, xTicks: densityTicks, xHeight: 19, xLabels: false, xFormat: v => String(v),
    yMin: 60, yMax: 13000, yTicks: totalTicks, yWidth: 20, yLabels: false, yFormat: v => String(v),
    legend: Object.assign({ title: 'R' }, legendOpts)
});

// Panel E
panel('chartE', [
    series('0.2', densityD, giniR02, DARK, 'circle', [], 3),
    series('0.4', densityD, giniR04, YELLOW, 'down', DASHED, 2),
    series('0.6', densityD, giniR06, ORANGE, 'rect', DASHDOT, 1)
], {
    padding: { top: 20, right: 55, left: 0, bottom: 0 },
    xMin: 3, xMax: 30, xTicks: densityTicks, xHeight: 70, xLabels: true, xFormat: v => String(v),
    xTitle: 'Taxi density d (1/km²)', xTitlePad: 4.5,
    yMin: 0.001, yMax: 0.45, yTicks: giniTicks, yWidth: 20, yLabels: false, yFormat: v => v.toFixed(1)
});
</script>
</body>
</html>
